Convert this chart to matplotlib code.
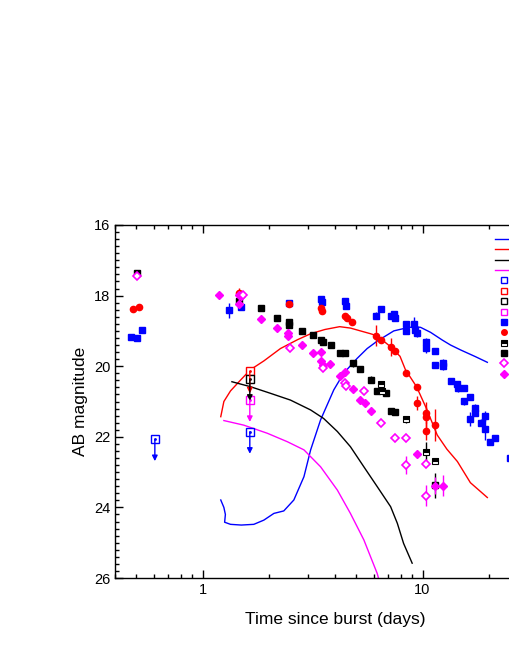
import matplotlib
matplotlib.use("Agg")
import matplotlib.pyplot as plt
from matplotlib.lines import Line2D
from matplotlib.ticker import LogLocator, MultipleLocator, NullFormatter, FixedLocator, FixedFormatter

plt.rcParams['font.family'] = ['Liberation Sans', 'DejaVu Sans']

# ---- model curves (time in days, AB mag) ----
mod_K_t = [1.21, 1.25, 1.27, 1.26, 1.34, 1.50, 1.71, 1.90, 2.11, 2.34, 2.60, 2.89, 3.10, 3.44,
           3.95, 4.38, 5.04, 5.60, 6.22, 7.40, 8.52, 9.27, 9.80, 10.87, 12.3, 13.4, 14.9, 17.4, 19.7]
mod_K_m = [23.79, 24.00, 24.20, 24.42, 24.48, 24.50, 24.48, 24.36, 24.17, 24.10, 23.79, 23.13,
           22.37, 21.52, 20.67, 20.20, 19.78, 19.50, 19.29, 19.00, 18.91, 18.88, 18.90, 19.04,
           19.26, 19.40, 19.54, 19.73, 19.89]
mod_H_t = [1.21, 1.25, 1.34, 1.49, 1.65, 1.90, 2.26, 2.70, 3.10, 3.60, 4.20, 4.70, 5.22, 5.80,
           6.22, 7.16, 7.90, 8.36, 9.39, 10.4, 11.66, 12.9, 14.4, 16.5, 19.7]
mod_H_m = [21.43, 21.00, 20.70, 20.39, 20.10, 19.85, 19.50, 19.25, 19.08, 18.96, 18.88, 18.92,
           19.00, 19.08, 19.14, 19.45, 19.72, 20.10, 20.58, 21.19, 21.95, 22.35, 22.70, 23.30, 23.72]
mod_J_t = [1.36, 1.65, 2.04, 2.51, 3.10, 3.55, 4.10, 4.70, 5.41, 6.22, 7.16, 7.68, 8.20, 8.97]
mod_J_m = [20.44, 20.58, 20.77, 20.96, 21.24, 21.48, 21.85, 22.28, 22.85, 23.41, 23.98, 24.45,
           25.02, 25.58]
mod_z_t = [1.25, 1.54, 1.97, 2.43, 2.89, 3.44, 4.10, 4.70, 5.41, 6.22, 6.50]
mod_z_m = [21.54, 21.67, 21.90, 22.14, 22.37, 22.85, 23.51, 24.17, 24.92, 25.87, 26.30]

# ---- detections ----
K_t = [0.474, 0.501, 0.532, 1.32, 1.50, 2.47, 3.44, 3.50, 4.43, 4.51, 6.17, 6.45, 7.16, 7.40,
       7.46, 8.42, 8.42, 9.10, 9.27, 9.39, 10.4, 10.4, 11.4, 11.4, 12.4, 12.4, 13.4, 14.4, 14.5,
       15.4, 15.4, 16.4, 16.4, 17.4, 17.4, 18.35, 19.3, 19.3, 20.2, 21.3, 24.9]
K_m = [19.17, 19.19, 18.97, 18.42, 18.31, 18.20, 18.10, 18.17, 18.14, 18.29, 18.57, 18.39, 18.58,
       18.53, 18.63, 18.81, 19.00, 18.81, 18.97, 19.07, 19.32, 19.48, 19.56, 19.97, 19.90, 20.00,
       20.41, 20.50, 20.63, 20.63, 20.99, 20.88, 21.50, 21.17, 21.32, 21.60, 21.41, 21.78, 22.14,
       22.02, 22.60]
K_e = [0.04, 0.04, 0.04, 0.22, 0.06, 0.06, 0.06, 0.06, 0.06, 0.06, 0.10, 0.06, 0.08, 0.10, 0.10,
       0.10, 0.10, 0.20, 0.10, 0.10, 0.12, 0.15, 0.06, 0.08, 0.10, 0.10, 0.06, 0.08, 0.10, 0.06,
       0.10, 0.08, 0.20, 0.10, 0.10, 0.10, 0.15, 0.30, 0.06, 0.06, 0.10]

H_t = [0.482, 0.513, 1.46, 2.47, 3.44, 3.50, 4.43, 4.54, 4.79, 6.17, 6.45, 7.16, 7.46, 8.45,
       9.39, 9.39, 10.4, 10.4, 10.4, 11.4]
H_m = [18.38, 18.31, 17.93, 18.24, 18.34, 18.44, 18.57, 18.64, 18.76, 19.14, 19.26, 19.45, 19.57,
       20.20, 20.58, 21.05, 21.32, 21.45, 21.84, 21.67]
H_e = [0.04, 0.04, 0.15, 0.06, 0.05, 0.05, 0.05, 0.05, 0.05, 0.30, 0.06, 0.25, 0.06, 0.06,
       0.06, 0.20, 0.30, 0.30, 0.25, 0.45]

J1_t = [0.501, 1.46, 1.84, 2.18, 2.48, 2.48, 2.84, 3.18, 3.46, 3.54, 3.84, 4.20, 4.43, 4.83,
        5.19, 5.85, 6.22, 6.84, 7.16, 7.49, 11.4]
J1_m = [17.35, 18.14, 18.36, 18.64, 18.74, 18.83, 19.00, 19.12, 19.26, 19.32, 19.40, 19.64, 19.64,
        19.92, 20.08, 20.39, 20.70, 20.77, 21.27, 21.29, 23.37]
J1_e = [0.04, 0.10, 0.08, 0.08, 0.08, 0.10, 0.08, 0.08, 0.08, 0.08, 0.08, 0.06, 0.06, 0.10,
        0.08, 0.10, 0.08, 0.08, 0.08, 0.06, 0.35]
J2_t = [6.49, 6.52, 8.45, 10.4, 11.4]
J2_m = [20.51, 20.70, 21.50, 22.44, 22.69]
J2_e = [0.08, 0.08, 0.10, 0.30, 0.06]

z1_t = [1.19, 1.46, 1.50, 1.46, 1.84, 2.18, 2.44, 2.44, 2.84, 3.18, 3.46, 3.44, 3.53, 3.81, 4.20,
        4.43, 4.83, 5.17, 5.46, 5.80, 9.39, 11.4, 12.4]
z1_m = [17.98, 17.98, 18.00, 18.25, 18.66, 18.91, 19.07, 19.15, 19.40, 19.62, 19.59, 19.85, 19.97,
        19.95, 20.27, 20.17, 20.66, 20.96, 21.03, 21.26, 22.50, 23.38, 23.38]
z1_e = [0.06, 0.06, 0.10, 0.06, 0.05, 0.05, 0.05, 0.05, 0.05, 0.05, 0.05, 0.05, 0.05, 0.05,
        0.05, 0.05, 0.05, 0.05, 0.05, 0.05, 0.06, 0.25, 0.30]
z2_t = [0.501, 1.52, 2.49, 3.53, 4.43, 4.50, 5.41, 6.49, 7.49, 8.45, 8.42, 10.4, 10.4]
z2_m = [17.44, 17.98, 19.48, 20.04, 20.47, 20.55, 20.69, 21.60, 22.04, 22.04, 22.80, 22.77, 23.67]
z2_e = [0.04, 0.10, 0.06, 0.06, 0.05, 0.05, 0.05, 0.06, 0.06, 0.06, 0.25, 0.06, 0.30]

# ---- upper limits ----
ul_K_t = [0.607, 1.64]
ul_K_m = [22.07, 21.86]
ul_H_t = [1.64]
ul_H_m = [20.15]
ul_J_t = [1.64]
ul_J_m = [20.36]
ul_z_t = [1.64]
ul_z_m = [20.96]

BLUE = '#0000ff'
RED = '#ff0000'
BLACK = '#000000'
MAG = '#ff00ff'

fig = plt.figure(figsize=(5.1, 6.6), dpi=100)
ax = fig.add_axes([115 / 510, 82 / 660, 440 / 510, 353 / 660])

ax.plot(mod_K_t, mod_K_m, color=BLUE, lw=1.0)
ax.plot(mod_H_t, mod_H_m, color=RED, lw=1.0)
ax.plot(mod_J_t, mod_J_m, color=BLACK, lw=1.0)
ax.plot(mod_z_t, mod_z_m, color=MAG, lw=1.0)

eb = dict(ls='none', capsize=0, elinewidth=1.0)
ax.errorbar(K_t, K_m, yerr=K_e, fmt='s', color=BLUE, ms=4.3, mec=BLUE, **eb)
ax.errorbar(H_t, H_m, yerr=H_e, fmt='o', color=RED, ms=4.5, mec=RED, **eb)
ax.errorbar(J1_t, J1_m, yerr=J1_e, fmt='s', color=BLACK, ms=4.3, **eb)
ax.errorbar(J2_t, J2_m, yerr=J2_e, fmt='s', color=BLACK, ms=4.3, fillstyle='top',
            markerfacecoloralt='white', mew=0.8, **eb)
ax.errorbar(z1_t, z1_m, yerr=z1_e, fmt='D', color=MAG, ms=4.2, **eb)
ax.errorbar(z2_t, z2_m, yerr=z2_e, fmt='D', color=MAG, ms=4.2, mfc='white', mew=1.2, **eb)

for ts, ms_, c in [(ul_K_t, ul_K_m, BLUE), (ul_H_t, ul_H_m, RED),
                   (ul_J_t, ul_J_m, BLACK), (ul_z_t, ul_z_m, MAG)]:
    for t, m in zip(ts, ms_):
        ax.annotate('', xy=(t, m + 0.62), xytext=(t, m),
                    arrowprops=dict(arrowstyle='-|>', color=c, lw=1.0,
                                    mutation_scale=8, shrinkA=0, shrinkB=0))
    ax.plot(ts, ms_, 's', color=c, ms=6, mfc='white', mew=1.0, ls='none')
    ax.plot(ts, ms_, '.', color=c, ms=2, ls='none')

ax.set_xscale('log')
ax.set_xlim(0.4, 40)
ax.set_ylim(26, 16)
ax.xaxis.set_major_locator(FixedLocator([1, 10]))
ax.xaxis.set_major_formatter(FixedFormatter(['1', '10']))
ax.xaxis.set_minor_locator(LogLocator(base=10, subs=range(2, 10)))
ax.xaxis.set_minor_formatter(NullFormatter())
ax.yaxis.set_major_locator(MultipleLocator(2))
ax.yaxis.set_minor_locator(MultipleLocator(0.2))
ax.tick_params(which='both', direction='in', top=True, right=True, labelsize=10.5, width=1.0)
ax.tick_params(which='major', length=6)
ax.tick_params(which='minor', length=3)
for s in ax.spines.values():
    s.set_linewidth(1.0)

ax.set_xlabel('Time since burst (days)', fontsize=12.5, labelpad=11)
ax.set_ylabel('AB magnitude', fontsize=12.5, labelpad=4)

handles = [
    Line2D([], [], color=BLUE, lw=1.0),
    Line2D([], [], color=RED, lw=1.0),
    Line2D([], [], color=BLACK, lw=1.0),
    Line2D([], [], color=MAG, lw=1.0),
    Line2D([], [], marker='s', ls='none', color=BLUE, mfc='white', ms=5),
    Line2D([], [], marker='s', ls='none', color=RED, mfc='white', ms=5),
    Line2D([], [], marker='s', ls='none', color=BLACK, mfc='white', ms=5),
    Line2D([], [], marker='s', ls='none', color=MAG, mfc='white', ms=5),
    Line2D([], [], marker='s', ls='none', color=BLUE, ms=4),
    Line2D([], [], marker='o', ls='none', color=RED, ms=4),
    Line2D([], [], marker='s', ls='none', color=BLACK, ms=4, fillstyle='top',
           markerfacecoloralt='white', mew=0.8),
    Line2D([], [], marker='s', ls='none', color=BLACK, ms=4),
    Line2D([], [], marker='D', ls='none', color=MAG, ms=4, mfc='white', mew=1.2),
    Line2D([], [], marker='D', ls='none', color=MAG, ms=4),
]
labels = ['K model', 'H model', 'J model', 'z model',
          'K upper limit', 'H upper limit', 'J upper limit', 'z upper limit',
          'K', 'H', 'J (HAWK-I)', 'J', 'z (FORS2)', 'z']
ax.legend(handles, labels, loc='upper left', bbox_to_anchor=(0.855, 0.985), frameon=False,
          fontsize=7, handlelength=1.9, labelspacing=0.04, borderaxespad=0, handletextpad=0.5)

fig.savefig('out.png', dpi=100)
